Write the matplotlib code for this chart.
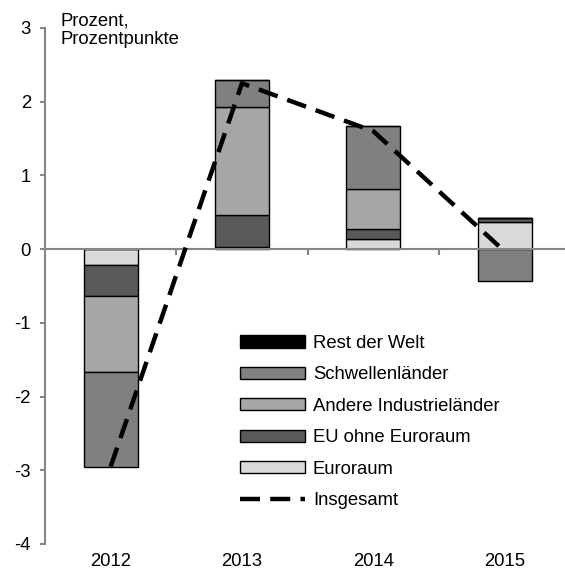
import matplotlib
matplotlib.use("Agg")
import matplotlib.pyplot as plt
import numpy as np
from matplotlib.patches import Patch
from matplotlib.lines import Line2D
import matplotlib.transforms as mtransforms

plt.rcParams['font.family'] = ['Liberation Sans', 'DejaVu Sans']
plt.rcParams['axes.unicode_minus'] = False

years = ["2012", "2013", "2014", "2015"]
euroraum = [-0.21, 0.03, 0.14, 0.37]
eu_ohne = [-0.42, 0.43, 0.14, 0.05]
andere = [-1.04, 1.47, 0.53, 0.0]
schwellen = [-1.28, 0.36, 0.86, -0.43]
rest = [0.0, 0.0, 0.0, 0.0]
insgesamt = [-2.95, 2.25, 1.60, -0.03]

series = [
    ("Euroraum", euroraum, "#d9d9d9"),
    ("EU ohne Euroraum", eu_ohne, "#595959"),
    ("Andere Industrieländer", andere, "#a6a6a6"),
    ("Schwellenländer", schwellen, "#808080"),
    ("Rest der Welt", rest, "#000000"),
]

FS = 13.3

fig = plt.figure(figsize=(5.65, 5.72), dpi=100)
ax = fig.add_axes([45/565, 28/572, 1 - 45/565, 516/572])

x = np.arange(len(years))
pos_base = np.zeros(len(years))
neg_base = np.zeros(len(years))
width = 0.41
for name, vals, col in series:
    v = np.array(vals)
    bottoms = np.where(v >= 0, pos_base, neg_base)
    ax.bar(x, v, width, bottom=bottoms, color=col, edgecolor="black",
           linewidth=1.0, zorder=2)
    pos_base = pos_base + np.where(v > 0, v, 0)
    neg_base = neg_base + np.where(v < 0, v, 0)

ax.plot(x, insgesamt, color="black", lw=3.2, dashes=(4.5, 2.3),
        dash_capstyle="butt", zorder=4)

ax.set_xlim(-0.5, 3.46)
ax.set_ylim(-4, 3)
ax.set_yticks(range(-4, 4))
ax.set_yticklabels([str(t) for t in range(-4, 4)], fontsize=FS)

gray = "#868686"
for s in ["top", "right"]:
    ax.spines[s].set_visible(False)
ax.spines["left"].set_color(gray)
ax.spines["left"].set_linewidth(1.5)
ax.spines["bottom"].set_position(("data", 0))
ax.spines["bottom"].set_color(gray)
ax.spines["bottom"].set_linewidth(1.5)
ax.spines["bottom"].set_zorder(3)
ax.tick_params(axis="y", colors=gray, labelcolor="black", length=3.6, width=1.5, pad=6.5)
ax.set_xticks(x)
ax.set_xticklabels([])
ax.tick_params(axis="x", which="major", length=0)
ax.set_xticks(x[:-1] + 0.5, minor=True)
ax.tick_params(axis="x", which="minor", direction="out", length=4, width=1.5, colors=gray)

trans = mtransforms.blended_transform_factory(ax.transData, ax.transAxes)
for i, yr in enumerate(years):
    ax.text(i, -0.017, yr, transform=trans, ha="center", va="top", fontsize=FS)

fig.text(60/565, 1 - 13/572, "Prozent,\nProzentpunkte", ha="left", va="top",
         fontsize=FS, linespacing=1.05)

handles = [Patch(facecolor=c, edgecolor="black", linewidth=1.0) for _, _, c in series[::-1]]
labels = [n for n, _, _ in series[::-1]]
handles.append(Line2D([0], [0], color="black", lw=3.2, dashes=(4.5, 2.3)))
labels.append("Insgesamt")
leg = ax.legend(handles, labels, loc="upper left",
                bbox_to_anchor=(227/565, 1 - 322/572), bbox_transform=fig.transFigure,
                frameon=False, fontsize=FS, handlelength=3.5, handleheight=0.65,
                labelspacing=0.78, handletextpad=0.45, borderpad=0.2)

fig.savefig("out.png", dpi=100)
